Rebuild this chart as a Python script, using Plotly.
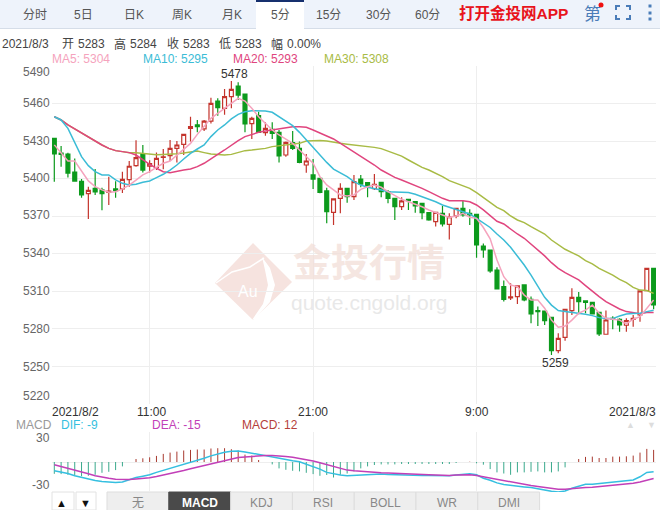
import plotly.graph_objects as go

# 5 minute bars
opens = [5432.2, 5420.5, 5419.7, 5405.3, 5397.9, 5388.0, 5392.3, 5391.0, 5389.0, 5391.8,
         5391.8, 5399.2, 5410.4, 5419.7, 5410.0, 5408.8, 5417.0, 5418.4, 5424.2, 5427.4,
         5440.2, 5442.9, 5439.7, 5446.0, 5462.0, 5456.2, 5465.5, 5474.0, 5467.6, 5443.9,
         5450.3, 5436.7, 5439.4, 5437.0, 5418.9, 5428.8, 5424.2, 5410.9, 5403.0, 5400.3,
         5390.2, 5373.1, 5384.3, 5392.3, 5385.6, 5399.7, 5396.8, 5392.0, 5397.0, 5389.6,
         5384.3, 5377.6, 5383.5, 5381.6, 5380.3, 5372.8, 5365.7, 5372.3, 5363.5, 5370.2,
         5376.3, 5372.3, 5371.5, 5346.2, 5343.0, 5327.0, 5313.8, 5304.8, 5305.8, 5315.1,
         5303.6, 5294.6, 5294.3, 5289.3, 5262.6, 5273.3, 5294.6, 5305.2, 5302.3, 5301.2,
         5293.3, 5275.7, 5288.5, 5287.7, 5282.9, 5287.5, 5291.1, 5310.6, 5328.4]
highs = [5432.2, 5426.1, 5420.8, 5416.2, 5399.7, 5393.6, 5407.7, 5392.8, 5401.6, 5398.0,
         5405.6, 5414.1, 5430.6, 5426.9, 5414.7, 5421.0, 5423.7, 5430.9, 5430.0, 5435.4,
         5449.5, 5446.9, 5446.9, 5464.7, 5464.2, 5471.6, 5478.0, 5477.0, 5467.6, 5449.5,
         5453.5, 5445.0, 5445.0, 5438.9, 5429.6, 5438.0, 5429.6, 5419.7, 5415.7, 5400.3,
         5392.8, 5383.8, 5396.3, 5392.3, 5402.9, 5402.9, 5396.8, 5403.7, 5397.0, 5391.0,
         5384.8, 5385.1, 5383.5, 5381.6, 5380.3, 5372.8, 5373.1, 5378.2, 5372.3, 5376.3,
         5382.4, 5375.5, 5371.5, 5348.3, 5343.0, 5329.2, 5318.6, 5316.4, 5314.3, 5315.1,
         5305.8, 5297.8, 5294.3, 5289.3, 5276.5, 5295.7, 5312.4, 5309.5, 5302.3, 5301.2,
         5293.3, 5294.6, 5290.0, 5288.5, 5288.5, 5291.1, 5310.3, 5328.4, 5328.4]
lows = [5397.6, 5409.6, 5401.0, 5398.0, 5384.8, 5367.8, 5387.0, 5374.7, 5379.0, 5384.8,
        5388.6, 5393.6, 5409.6, 5405.0, 5405.0, 5406.9, 5407.5, 5414.1, 5413.0, 5418.9,
        5429.6, 5437.0, 5438.0, 5444.0, 5450.3, 5451.0, 5456.2, 5462.8, 5437.0, 5431.7,
        5437.0, 5434.3, 5431.7, 5413.0, 5417.6, 5422.9, 5412.3, 5404.8, 5391.8, 5388.3,
        5364.3, 5363.0, 5372.3, 5380.8, 5383.0, 5393.1, 5385.1, 5391.0, 5385.1, 5380.3,
        5367.0, 5375.0, 5375.0, 5372.8, 5367.5, 5366.4, 5361.7, 5361.7, 5351.5, 5368.3,
        5369.6, 5363.0, 5336.9, 5336.9, 5324.9, 5311.9, 5301.8, 5303.1, 5299.9, 5302.0,
        5284.5, 5282.3, 5283.1, 5259.2, 5260.5, 5270.6, 5291.1, 5291.7, 5292.5, 5291.9,
        5274.4, 5275.7, 5279.7, 5277.8, 5277.8, 5281.8, 5285.8, 5310.6, 5295.7]
closes = [5419.7, 5419.4, 5404.5, 5398.1, 5387.0, 5390.7, 5389.4, 5388.0, 5390.0, 5390.4,
          5399.5, 5409.9, 5416.8, 5406.9, 5412.0, 5416.2, 5417.5, 5424.2, 5426.9, 5435.4,
          5441.5, 5441.5, 5446.0, 5460.2, 5456.7, 5465.5, 5471.4, 5466.8, 5443.7, 5448.2,
          5437.0, 5440.2, 5436.2, 5418.1, 5429.0, 5424.2, 5413.0, 5414.1, 5399.7, 5389.0,
          5373.7, 5383.8, 5392.3, 5385.6, 5397.6, 5395.7, 5393.1, 5395.5, 5389.6, 5384.3,
          5377.6, 5382.2, 5382.4, 5378.2, 5372.8, 5367.0, 5373.1, 5363.8, 5369.6, 5376.3,
          5371.0, 5371.0, 5347.0, 5343.0, 5326.3, 5311.9, 5303.6, 5305.5, 5314.3, 5303.1,
          5291.9, 5293.8, 5286.6, 5262.6, 5272.5, 5295.7, 5305.2, 5301.8, 5301.2, 5291.9,
          5276.0, 5287.1, 5287.7, 5283.1, 5286.6, 5288.5, 5310.3, 5328.4, 5299.1]

ma5 = [5427.0, 5420.2, 5414.1, 5414.1, 5406.1, 5398.2, 5393.6, 5391.0, 5389.1, 5389.6,
       5391.8, 5394.9, 5398.9, 5403.0, 5405.6, 5408.8, 5412.3, 5414.1, 5418.9, 5422.9,
       5428.2, 5435.4, 5441.5, 5448.2, 5452.2, 5456.2, 5460.2, 5464.2, 5462.0, 5456.2,
       5449.5, 5444.2, 5438.9, 5434.9, 5431.7, 5428.2, 5422.9, 5417.6, 5412.3, 5401.6,
       5395.0, 5391.0, 5387.0, 5386.2, 5387.0, 5391.5, 5393.6, 5394.9, 5393.1, 5389.6,
       5386.2, 5383.5, 5381.6, 5379.8, 5377.6, 5375.0, 5372.8, 5371.0, 5369.1, 5370.2,
       5372.3, 5369.1, 5368.3, 5361.0, 5352.0, 5335.0, 5321.7, 5315.0, 5313.8, 5307.0,
       5303.0, 5303.0, 5296.5, 5287.0, 5281.3, 5282.3, 5287.0, 5292.5, 5295.0, 5299.0,
       5292.5, 5288.5, 5287.7, 5287.0, 5284.0, 5287.7, 5289.8, 5296.5, 5303.0]
ma10 = [5449.5, 5446.9, 5440.2, 5428.2, 5417.6, 5410.4, 5405.6, 5403.0, 5403.0, 5399.0,
        5396.3, 5395.0, 5395.5, 5397.1, 5398.2, 5400.8, 5403.5, 5406.9, 5410.9, 5415.7,
        5420.2, 5423.7, 5426.9, 5433.6, 5438.9, 5442.9, 5447.7, 5451.4, 5453.5, 5454.3,
        5454.0, 5454.0, 5453.0, 5449.5, 5445.5, 5442.3, 5437.0, 5430.9, 5425.6, 5418.9,
        5413.0, 5407.7, 5404.8, 5401.6, 5397.6, 5394.9, 5393.1, 5392.3, 5391.0, 5389.6,
        5389.6, 5389.6, 5389.0, 5387.5, 5385.6, 5383.5, 5381.6, 5379.0, 5377.1, 5375.5,
        5373.6, 5371.8, 5368.3, 5364.3, 5361.0, 5355.8, 5351.0, 5345.2, 5338.3, 5331.0,
        5323.0, 5314.3, 5305.2, 5299.0, 5294.6, 5293.8, 5293.3, 5292.5, 5291.7, 5290.6,
        5289.0, 5288.2, 5288.2, 5290.3, 5291.9, 5292.2, 5292.5, 5293.8, 5294.9]
ma20 = [5449.5, 5446.9, 5442.9, 5439.7, 5436.2, 5432.8, 5429.6, 5426.9, 5424.2, 5422.4,
        5421.6, 5420.8, 5418.9, 5414.9, 5411.5, 5408.3, 5405.6, 5404.8, 5406.1, 5406.9,
        5407.7, 5409.6, 5412.3, 5416.2, 5419.4, 5422.9, 5426.9, 5430.4, 5433.6, 5435.4,
        5437.0, 5438.0, 5438.9, 5440.2, 5441.0, 5441.5, 5441.5, 5441.0, 5438.9, 5436.2,
        5434.1, 5431.7, 5428.2, 5425.0, 5421.5, 5418.0, 5414.9, 5410.9, 5406.9, 5403.7,
        5401.0, 5398.9, 5396.8, 5394.9, 5392.3, 5389.6, 5387.0, 5384.3, 5382.4, 5382.4,
        5382.4, 5381.6, 5379.0, 5375.0, 5370.2, 5366.0, 5363.8, 5359.5, 5355.8, 5352.4,
        5347.8, 5343.0, 5338.3, 5332.9, 5328.4, 5324.9, 5321.7, 5319.1, 5314.6, 5309.8,
        5305.8, 5301.8, 5298.6, 5295.9, 5293.8, 5292.7, 5292.2, 5293.0, 5293.0]
ma30 = [5449.5, 5446.9, 5442.9, 5439.7, 5436.2, 5432.8, 5429.6, 5426.9, 5424.2, 5422.4,
        5421.6, 5420.8, 5420.8, 5420.2, 5419.4, 5419.2, 5419.4, 5419.4, 5420.0, 5420.5,
        5421.0, 5422.0, 5420.8, 5419.7, 5419.4, 5418.9, 5419.4, 5420.8, 5422.4, 5422.9,
        5423.4, 5424.2, 5425.6, 5426.4, 5426.9, 5427.4, 5428.2, 5430.1, 5430.4, 5430.4,
        5430.1, 5429.0, 5428.2, 5427.5, 5427.0, 5426.5, 5426.0, 5425.0, 5424.0, 5422.0,
        5420.5, 5418.0, 5414.9, 5411.7, 5409.0, 5406.9, 5404.3, 5401.6, 5398.4, 5396.3,
        5394.1, 5392.3, 5388.8, 5385.1, 5380.8, 5377.1, 5374.5, 5370.2, 5367.0, 5364.9,
        5361.7, 5359.0, 5355.8, 5351.0, 5347.0, 5343.6, 5340.9, 5338.3, 5334.5, 5331.9,
        5328.4, 5325.7, 5323.0, 5319.6, 5317.0, 5313.2, 5311.0, 5310.6, 5308.4]

dif = [-8.8, -10.1, -11.5, -13.8, -15.5, -17.2, -18.5, -19.5, -20.2, -20.6,
       -19.9, -17.5, -15.5, -14.2, -12.8, -10.4, -8.4, -6.7, -4.7, -2.7,
       -1.0, 1.3, 3.7, 6.1, 8.1, 9.8, 10.8, 11.1, 10.1, 8.8,
       7.4, 6.7, 5.4, 3.4, 2.4, 1.3, 0.3, -2.0, -4.4, -7.1,
       -10.4, -12.1, -13.1, -13.8, -13.5, -13.1, -12.5, -12.1, -12.1, -12.5,
       -12.8, -12.8, -13.1, -13.1, -13.5, -13.5, -13.8, -14.2, -13.8, -13.1,
       -12.5, -11.8, -12.8, -16.2, -18.2, -20.9, -22.6, -23.6, -24.3, -24.9,
       -25.6, -27.0, -28.0, -29.3, -30.0, -29.0, -26.3, -23.9, -22.2, -22.2,
       -21.6, -20.9, -20.2, -19.5, -18.9, -17.9, -14.8, -10.4, -9.8]
dea = [-2.7, -4.4, -6.1, -7.8, -9.8, -11.8, -13.8, -15.2, -16.2, -17.2,
       -17.5, -17.5, -16.9, -16.5, -15.8, -14.5, -13.1, -11.8, -10.1, -8.4,
       -6.7, -5.1, -3.7, -1.7, 0.0, 1.7, 3.0, 4.4, 5.1, 5.7,
       6.1, 6.4, 6.4, 6.1, 5.4, 4.7, 3.7, 2.7, 1.0, -0.7,
       -2.7, -4.7, -6.4, -8.1, -8.8, -9.4, -10.1, -10.4, -10.8, -11.1,
       -11.5, -11.8, -12.1, -12.1, -12.5, -12.8, -13.1, -13.5, -13.5, -13.1,
       -12.8, -12.8, -13.5, -14.8, -15.8, -17.5, -18.9, -20.2, -21.2, -22.2,
       -23.6, -24.6, -25.6, -26.6, -27.3, -27.3, -26.6, -25.9, -25.6, -25.3,
       -24.6, -23.9, -23.6, -22.9, -22.2, -21.2, -19.9, -18.2, -16.5]
macd = [-11.8, -12.1, -12.8, -13.8, -14.2, -13.8, -12.8, -10.8, -9.8, -8.1,
        -4.4, 0, 3.0, 3.7, 4.7, 6.1, 8.1, 9.4, 10.4, 11.5,
        12.1, 12.5, 12.5, 13.5, 13.8, 13.8, 12.8, 11.5, 7.4, 6.4,
        2.0, 0, -2.4, -6.4, -7.8, -8.8, -9.4, -10.8, -12.1, -13.8,
        -13.0, -15.5, -12.8, -11.5, -9.4, -6.4, -4.4, -3.0, -2.4, -2.4,
        -2.4, -2.0, -2.0, -2.0, -2.0, -2.0, -2.0, -2.0, -2.0, -1.0,
        0, 0.3, -1.3, -2.7, -7.1, -10.4, -11.5, -12.8, -10.4, -10.4,
        -9.8, -9.4, -10.4, -10.4, -9.4, -5.4, 0, 3.0, 5.1, 5.4,
        4.0, 4.0, 5.4, 5.4, 5.7, 6.4, 9.4, 13.1, 12.1]

price_ticks = [5490, 5460, 5430, 5400, 5370, 5340, 5310, 5280, 5250, 5220]
time_ticks = [14, 38, 62]
time_labels = ['11:00', '21:00', '9:00']
tabs = ['分时', '5日', '日K', '周K', '月K', '5分', '15分', '30分', '60分']
tab_x = [35, 83, 134, 182, 232, 280, 328, 378, 427]
lower_tabs = ['无', 'MACD', 'KDJ', 'RSI', 'BOLL', 'WR', 'DMI']
info_items = ['2021/8/3', '开', '5283', '高', '5284', '收', '5283', '低', '5283', '幅', '0.00%']
info_x = [1, 61, 77, 113, 129, 166, 182, 218, 234, 270, 286]

W, H = 660, 510
FONT = 'Liberation Sans, Noto Sans CJK SC, sans-serif'
MA_COLORS = ['#f5a3bd', '#3bbcd6', '#e0457e', '#a8bb45']
GRID = '#eeeeee'


def px(x):
    return x / W


def py(y):
    return 1 - y / H


def label(x, y, text, color='#555555', size=12, anchor='left', **kw):
    fig.add_annotation(x=px(x), y=py(y), xref='paper', yref='paper', text=text, showarrow=False,
                       xanchor=anchor, yanchor='middle', font=dict(family=FONT, size=size, color=color),
                       borderpad=0, **kw)


def rect(x0, y0, x1, y1, fill, line=None, layer='below'):
    fig.add_shape(type='rect', xref='paper', yref='paper', x0=px(x0), x1=px(x1), y0=py(y0), y1=py(y1),
                  fillcolor=fill, line=dict(color=line or fill, width=1 if line else 0), layer=layer)


def path(points, fill=None, line=None, width=1, layer='below', closed=True):
    d = 'M ' + ' L '.join(f'{px(a):.5f},{py(b):.5f}' for a, b in points) + (' Z' if closed else '')
    fig.add_shape(type='path', xref='paper', yref='paper', path=d, fillcolor=fill,
                  line=dict(color=line or 'rgba(0,0,0,0)', width=width), layer=layer)


fig = go.Figure()
idx = list(range(len(closes)))

fig.add_trace(go.Candlestick(
    x=idx, open=opens, high=highs, low=lows, close=closes, whiskerwidth=0,
    increasing=dict(line=dict(color='#c4342c', width=1.2), fillcolor='#ffffff'),
    decreasing=dict(line=dict(color='#0c9a1c', width=1.2), fillcolor='#0c9a1c'),
    xaxis='x', yaxis='y', hoverinfo='skip'))

for vals, color in zip([ma30, ma20, ma10, ma5], [MA_COLORS[3], MA_COLORS[2], MA_COLORS[1], MA_COLORS[0]]):
    fig.add_trace(go.Scatter(x=idx, y=vals, mode='lines', line=dict(color=color, width=1.5),
                             xaxis='x', yaxis='y', hoverinfo='skip'))

# macd histogram as thin sticks from the zero line
for want_up, color in [(True, '#a83a30'), (False, '#3aa98c')]:
    stick_x, stick_y = [], []
    for i, v in zip(idx, macd):
        if v != 0 and (v > 0) == want_up:
            stick_x += [i, i, None]
            stick_y += [0, v, None]
    fig.add_trace(go.Scatter(x=stick_x, y=stick_y, mode='lines', line=dict(color=color, width=1),
                             xaxis='x2', yaxis='y2', hoverinfo='skip'))
fig.add_trace(go.Scatter(x=idx, y=dif, mode='lines', line=dict(color='#35bfe0', width=1.5),
                         xaxis='x2', yaxis='y2', hoverinfo='skip'))
fig.add_trace(go.Scatter(x=idx, y=dea, mode='lines', line=dict(color='#c23fb8', width=1.5),
                         xaxis='x2', yaxis='y2', hoverinfo='skip'))

x_range = [-0.338, 88.35]
dom_x = [px(52), px(656)]
fig.update_layout(
    width=W, height=H, margin=dict(l=0, r=0, t=0, b=0), showlegend=False,
    paper_bgcolor='#ffffff', plot_bgcolor='rgba(0,0,0,0)', boxgap=0.18,
    xaxis=dict(domain=dom_x, range=x_range, tickvals=time_ticks, showticklabels=False, ticks='',
               gridcolor=GRID, gridwidth=1, zeroline=False, rangeslider=dict(visible=False), fixedrange=True),
    yaxis=dict(domain=[py(404), py(66)], range=[5220, 5490], tickvals=price_ticks, showticklabels=False,
               ticks='', gridcolor=GRID, gridwidth=1, zeroline=False, fixedrange=True),
    xaxis2=dict(domain=dom_x, range=x_range, tickvals=time_ticks, showticklabels=False, ticks='',
                gridcolor=GRID, gridwidth=1, zeroline=False, anchor='y2', fixedrange=True),
    yaxis2=dict(domain=[py(492), py(432)], range=[-30, 30], tickvals=[-30, 0, 30], showticklabels=False,
                ticks='', gridcolor=GRID, gridwidth=1, zeroline=False, anchor='x2', fixedrange=True),
)

# top toolbar
rect(0, 0, 660, 28, '#eef3fb')
path([(0, 28.5), (660, 28.5)], line='#d5dde8', closed=False)
rect(256, 1, 304, 29, '#ffffff')
rect(256, 0, 304, 2, '#16306e')
for name, x in zip(tabs, tab_x):
    label(x, 15, name, color='#555555', size=12, anchor='center')
label(458, 13, '<b>打开金投网APP</b>', color='#e8141c', size=15.5)
label(592, 14, '第', color='#4a7cb8', size=17, anchor='center')
fig.add_shape(type='circle', xref='paper', yref='paper', x0=px(598.5), x1=px(603.5), y0=py(7.5), y1=py(2.5),
              fillcolor='#f01010', line=dict(width=0))
for cx, cy, dx, dy in [(616, 6, 1, 1), (630, 6, -1, 1), (616, 19, 1, -1), (630, 19, -1, -1)]:
    path([(cx + 4 * dx, cy), (cx, cy), (cx, cy + 4 * dy)], line='#4a7cb8', width=2, closed=False)
for cy in [6, 13, 19]:
    rect(648.5, cy - 1.5, 651.5, cy + 1.5, '#4a7cb8')

# info rows
for name, x in zip(info_items, info_x):
    label(x, 44, name, color='#444444', size=12)
label(51, 59, 'MA5: 5304', color=MA_COLORS[0])
label(142, 59, 'MA10: 5295', color=MA_COLORS[1])
label(232, 59, 'MA20: 5293', color=MA_COLORS[2])
label(323, 59, 'MA30: 5308', color=MA_COLORS[3])

# price and time labels
for p, y in zip(price_ticks, [72, 103, 141, 178, 215, 253, 291, 329, 367, 396]):
    label(51, y, str(p), color='#666666', anchor='right')
label(51, 412, '2021/8/2', color='#333333')
for t, name, x in zip(time_ticks, time_labels, [151, 313, 477]):
    label(x, 412, name, color='#333333', anchor='center')
label(657, 412, '2021/8/3', color='#333333', anchor='right')
label(234, 74, '5478', color='#333333', anchor='center')
label(555, 363, '5259', color='#333333', anchor='center')

# watermark
path([(253, 243), (292, 282), (253, 320), (215, 283)], fill='#f6e3df')
path([(262, 257), (270, 268), (275, 285), (270, 302), (255, 319), (252, 320), (263, 304), (268, 285), (265, 270)],
     fill='#ffffff')
path([(216, 283), (232, 272), (250, 267), (264, 258)], line='#ffffff', width=1.5, closed=False)
label(248, 291, 'Au', color='#ffffff', size=16, anchor='center')
label(369, 263, '<b>金投行情</b>', color='rgba(242,222,216,0.75)', size=38, anchor='center')
label(369, 302, 'quote.cngold.org', color='rgba(228,228,228,0.85)', size=21, anchor='center')

# macd header
label(15, 424.5, 'MACD', color='#999999')
label(60, 424.5, 'DIF: -9', color='#35bfe0')
label(151, 424.5, 'DEA: -15', color='#c23fb8')
label(241, 424.5, 'MACD: 12', color='#b5403a')
label(51, 438, '30', color='#666666', anchor='right')
label(51, 485, '-30', color='#666666', anchor='right')
label(630, 425, '▲', color='#dddddd', size=9, anchor='center')
label(651, 425, '▼', color='#dddddd', size=9, anchor='center')

# bottom buttons
rect(52, 492, 74, 510, '#ffffff', line='#e2e2e2')
rect(76, 492, 96, 510, '#ffffff', line='#e2e2e2')
label(61.5, 503, '▲', color='#111111', size=11, anchor='center')
label(85.5, 503, '▼', color='#111111', size=11, anchor='center')
for i, name in enumerate(lower_tabs):
    x0 = 107 + i * 61.8
    on = name == 'MACD'
    rect(x0, 492, x0 + 61.8, 511, '#4a4a4a' if on else '#eeeeee', line='#4a4a4a' if on else '#dddddd')
    label(x0 + 30.9, 503, f'<b>{name}</b>' if on else name, color='#ffffff' if on else '#888888',
          size=12, anchor='center')

fig.write_html('out.html', config=dict(displayModeBar=False), post_script="document.body.style.margin='0';")
